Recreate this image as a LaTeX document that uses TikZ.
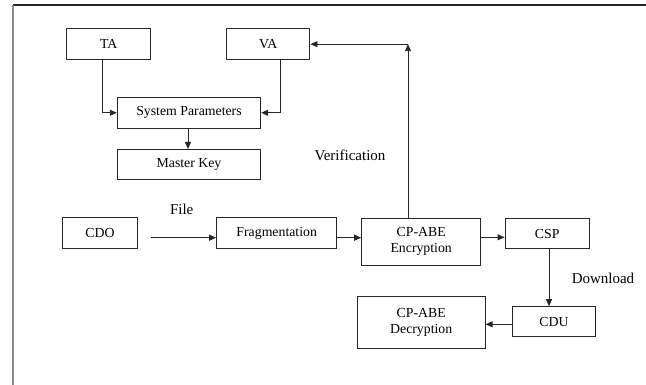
\documentclass[tikz,border=0pt]{standalone}
\usepackage{fontspec}
\setmainfont{Liberation Serif}
\usetikzlibrary{arrows.meta}
\definecolor{ink}{HTML}{262626}
\definecolor{rule}{HTML}{8C8C8C}
\begin{document}
\begin{tikzpicture}[x=1pt,y=-1pt,
  blk/.style={draw=ink,line width=1pt,fill=white,minimum height=30.5pt,
    inner sep=0pt,align=center,font=\fontsize{13.8}{16}\selectfont},
  lbl/.style={font=\fontsize{15}{18}\selectfont,inner sep=0pt},
  conn/.style={draw=ink,line width=0.9pt},
  arr/.style={conn,-{Triangle[length=7pt,width=6pt]}}]
\useasboundingbox (0,0) rectangle (646,385);
% page frame
\draw[ink,line width=1.2pt] (13,5) -- (646,5);
\draw[rule,line width=1.5pt] (13,5) -- (13,385);

% setup blocks
\node[blk,minimum width=84pt]   (TA)  at (108.7,44.2)  {TA};
\node[blk,minimum width=83.3pt] (VA)  at (268.3,44.2)  {VA};
\node[blk,minimum width=143.4pt,minimum height=31pt] (SP) at (189,112.8) {System Parameters};
\node[blk,minimum width=143.4pt] (MK)  at (189,164.7)  {Master Key};

% upload / download blocks
\node[blk,minimum width=74.6pt] (CDO)  at (100,233)    {CDO};
\node[blk,minimum width=120pt]  (FRG)  at (276.7,233)  {Fragmentation};
\node[blk,minimum width=119pt,minimum height=46.7pt] (ENC) at (421.2,241.7) {CP-ABE\\Encryption};
\node[blk,minimum width=84.3pt] (CSP)  at (547.2,233.7) {CSP};
\node[blk,minimum width=83.4pt,minimum height=30pt] (CDU) at (554,321.7) {CDU};
\node[blk,minimum width=127.7pt,minimum height=52pt] (DEC) at (421.2,322) {CP-ABE\\Decryption};

% labels
\node[lbl] (file)   at (181.7,209) {File};
\node[lbl] (verif)  at (350,155)   {Verification};
\node[lbl] (dload)  at (603,278)   {Download};

% helper points
\coordinate (taout) at ([xshift=-6.4pt]TA.south);
\coordinate (vaout) at ([xshift=11.7pt]VA.south);
\coordinate (cdoout) at ([shift={(13.4,4.7)}]CDO.east);
\coordinate (frgout) at ([shift={(0,4.7)}]FRG.east);
\coordinate (encout) at ([shift={(0,-4.4)}]ENC.east);
\coordinate (cspout) at ([xshift=1.8pt]CSP.south);
\coordinate (cduout) at ([shift={(0,2.6)}]CDU.west);
\coordinate (encup)  at ([xshift=-13.2pt]ENC.north);
\coordinate (corner) at (encup |- VA.east);

% connectors
\draw[arr] (taout) |- (SP.west);
\draw[arr] (vaout) |- (SP.east);
\draw[arr] ([xshift=-1pt]SP.south) -- ([xshift=-1pt]MK.north);
\draw[arr] (cdoout) -- (cdoout -| FRG.west);
\draw[arr] (frgout) -- (frgout -| ENC.west);
\draw[arr] (encout) -- (encout -| CSP.west);
\draw[arr] (cspout) -- (cspout |- CDU.north);
\draw[arr] (cduout) -- (cduout -| DEC.east);
\draw[arr] (encup) -- (corner);
\draw[arr] (corner) -- (VA.east);
\end{tikzpicture}
\end{document}
